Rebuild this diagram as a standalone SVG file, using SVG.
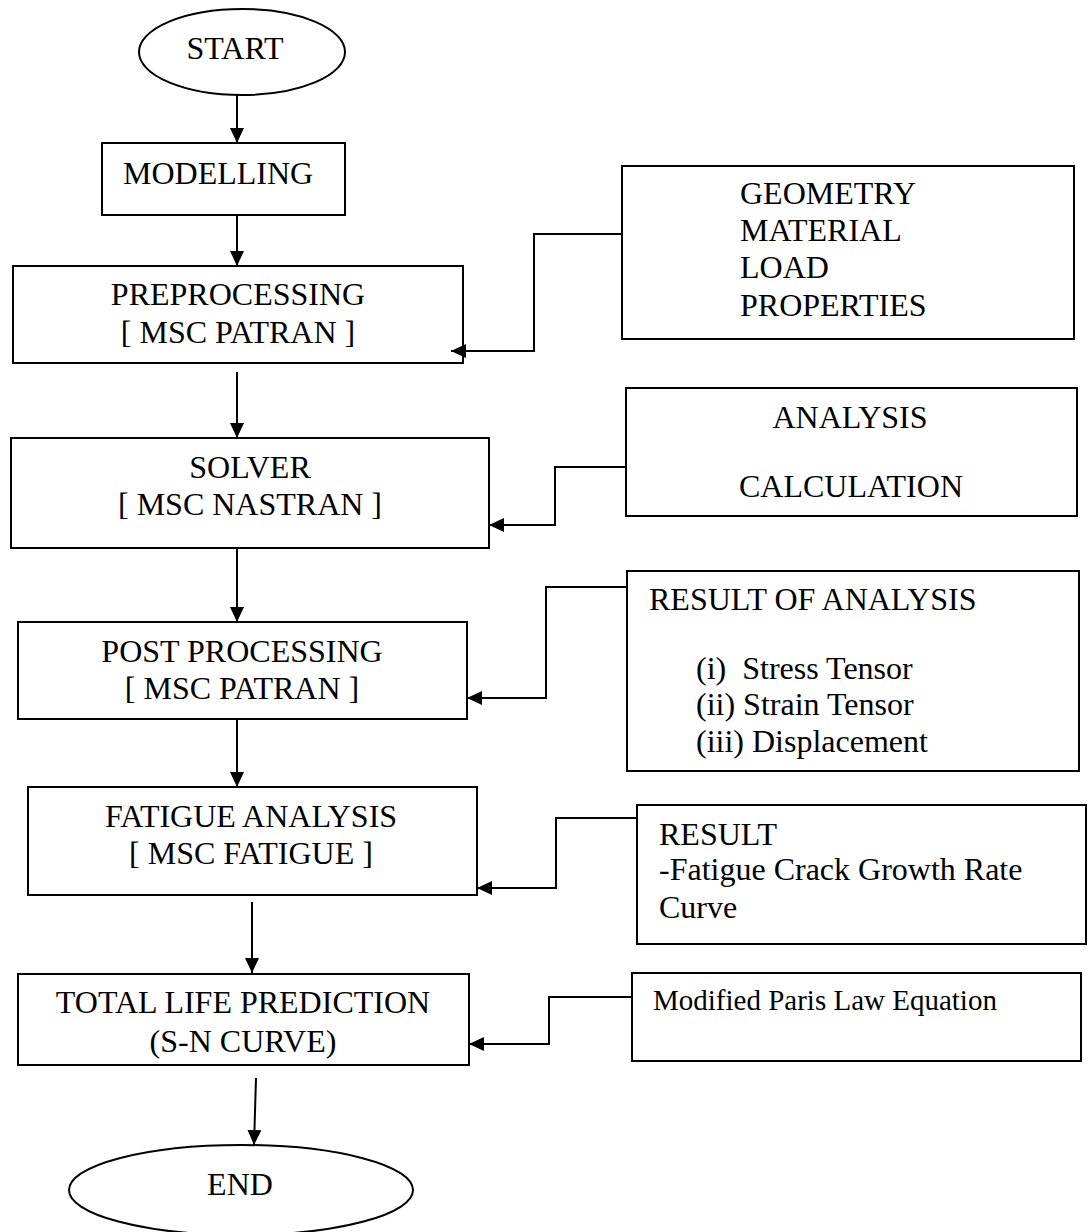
<svg xmlns="http://www.w3.org/2000/svg" width="1088" height="1232" viewBox="0 0 1088 1232">
<defs>
<style>
.box{fill:#fff;stroke:#000;stroke-width:2}
.t{font-family:"Liberation Serif","Times New Roman",serif;font-size:32px;fill:#000;white-space:pre}
.c{text-anchor:middle}
.s{font-size:29px}
.ln{fill:none;stroke:#000;stroke-width:2}
</style>
<marker id="ah" markerUnits="userSpaceOnUse" markerWidth="16" markerHeight="16" refX="15" refY="7.5" orient="auto">
<polygon points="0,0.5 15,7.5 0,14.5" fill="#000"/>
</marker>
</defs>
<rect width="1088" height="1232" fill="#fff"/>
<g id="start"><ellipse class="box" cx="242" cy="52" rx="103" ry="43"/><text class="t c" x="235" y="59">START</text></g>
<g id="modelling"><rect class="box" x="102" y="143" width="243" height="72"/><text class="t" x="123" y="184">MODELLING</text></g>
<g id="preprocessing"><rect class="box" x="13" y="266" width="450" height="97"/><text class="t c" x="238" y="305">PREPROCESSING</text><text class="t c" x="238" y="343">[ MSC PATRAN ]</text></g>
<g id="solver"><rect class="box" x="11" y="438" width="478" height="110"/><text class="t c" x="250" y="478">SOLVER</text><text class="t c" x="250" y="515">[ MSC NASTRAN ]</text></g>
<g id="postprocessing"><rect class="box" x="18" y="622" width="449" height="97"/><text class="t c" x="242" y="662">POST PROCESSING</text><text class="t c" x="242" y="699">[ MSC PATRAN ]</text></g>
<g id="fatigue"><rect class="box" x="28" y="787" width="449" height="108"/><text class="t c" x="251" y="827">FATIGUE ANALYSIS</text><text class="t c" x="251" y="864">[ MSC FATIGUE ]</text></g>
<g id="totallife"><rect class="box" x="18" y="974" width="451" height="91"/><text class="t c" x="243" y="1013">TOTAL LIFE PREDICTION</text><text class="t c" x="243" y="1052">(S-N CURVE)</text></g>
<g id="end"><ellipse class="box" cx="241" cy="1190" rx="172" ry="45"/><text class="t c" x="240" y="1195">END</text></g>
<g id="inputs"><rect class="box" x="622" y="166" width="452" height="173"/><text class="t" x="740" y="204">GEOMETRY</text><text class="t" x="740" y="241">MATERIAL</text><text class="t" x="740" y="278">LOAD</text><text class="t" x="740" y="316">PROPERTIES</text></g>
<g id="analysis"><rect class="box" x="626" y="388" width="451" height="128"/><text class="t c" x="850" y="428">ANALYSIS</text><text class="t c" x="851" y="497">CALCULATION</text></g>
<g id="resultanalysis"><rect class="box" x="627" y="571" width="452" height="200"/><text class="t" x="649" y="610">RESULT OF ANALYSIS</text><text class="t" x="696" y="679">(i)  Stress Tensor</text><text class="t" x="696" y="715">(ii) Strain Tensor</text><text class="t" x="696" y="752">(iii) Displacement</text></g>
<g id="result"><rect class="box" x="637" y="805" width="449" height="139"/><text class="t" x="659" y="845">RESULT</text><text class="t" x="659" y="880">-Fatigue Crack Growth Rate</text><text class="t" x="659" y="918">Curve</text></g>
<g id="paris"><rect class="box" x="632" y="973" width="449" height="88"/><text class="t s" x="653" y="1010">Modified Paris Law Equation</text></g>
<g id="connectors">
<line class="ln" x1="237" y1="95" x2="237" y2="143" marker-end="url(#ah)"/>
<line class="ln" x1="237" y1="215" x2="237" y2="266" marker-end="url(#ah)"/>
<line class="ln" x1="237" y1="372" x2="237" y2="438" marker-end="url(#ah)"/>
<line class="ln" x1="237" y1="548" x2="237" y2="622" marker-end="url(#ah)"/>
<line class="ln" x1="237" y1="719" x2="237" y2="787" marker-end="url(#ah)"/>
<line class="ln" x1="252" y1="902" x2="252" y2="973" marker-end="url(#ah)"/>
<line class="ln" x1="256" y1="1078" x2="254" y2="1145" marker-end="url(#ah)"/>
<polyline class="ln" points="622,234 534,234 534,351 451,351" marker-end="url(#ah)"/>
<polyline class="ln" points="626,467 555,467 555,525 489,525" marker-end="url(#ah)"/>
<polyline class="ln" points="627,587 546,587 546,698 467,698" marker-end="url(#ah)"/>
<polyline class="ln" points="637,818 556,818 556,888 477,888" marker-end="url(#ah)"/>
<polyline class="ln" points="632,997 549,997 549,1044 469,1044" marker-end="url(#ah)"/>
</g>
</svg>
